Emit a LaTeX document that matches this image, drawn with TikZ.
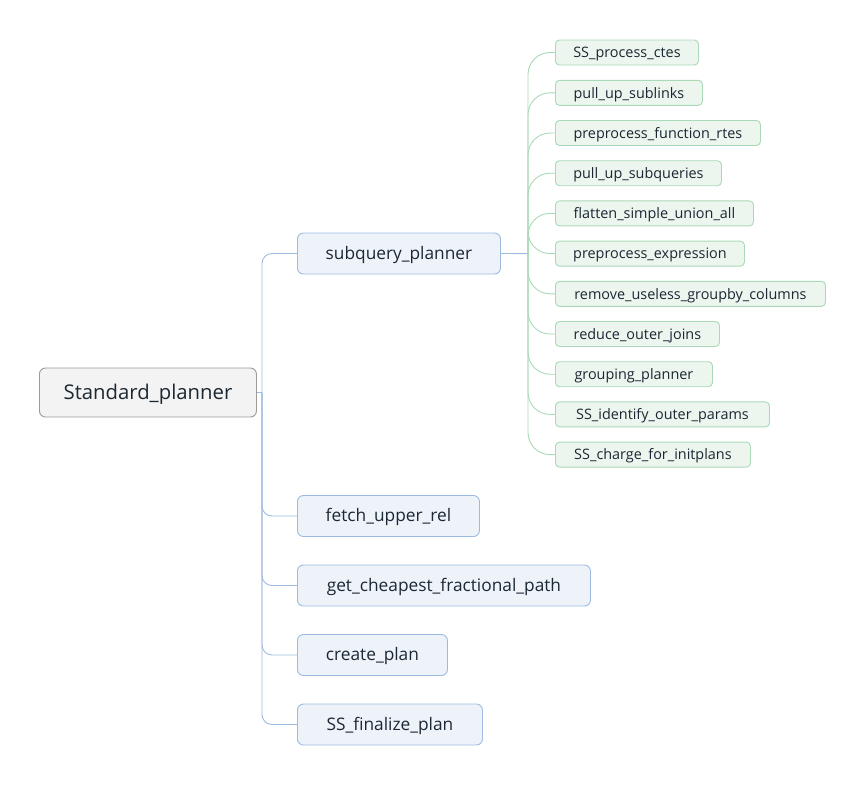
\documentclass[tikz,border=0pt]{standalone}
\usepackage{fontspec}
\setmainfont{Open Sans}
\definecolor{rootfill}{HTML}{F3F3F3}
\definecolor{rootdraw}{HTML}{9A9A9A}
\definecolor{bluefill}{HTML}{EEF3FA}
\definecolor{bluedraw}{HTML}{9DBBE0}
\definecolor{greenfill}{HTML}{ECF6EF}
\definecolor{greendraw}{HTML}{A9D9B6}
\definecolor{txt}{HTML}{1B2733}
\begin{document}
\begin{tikzpicture}[x=1pt,y=-1pt,
  base/.style={rounded corners=6pt, inner sep=0pt, text=txt, anchor=west, line width=0.9pt},
  rootbox/.style={base, fill=rootfill, draw=rootdraw, minimum height=49pt, text height=16pt, text depth=2pt, font=\fontsize{20.3}{24}\selectfont},
  midbox/.style={base, fill=bluefill, draw=bluedraw, minimum height=41pt, text height=13.6pt, text depth=2pt, font=\fontsize{17.3}{20}\selectfont},
  leafbox/.style={base, rounded corners=4pt, fill=greenfill, draw=greendraw, minimum height=25pt, text height=12.4pt, text depth=2pt, font=\fontsize{14.4}{17}\selectfont},
  blueline/.style={draw=bluedraw, line width=0.9pt, rounded corners=10pt},
  greenline/.style={draw=greendraw, line width=0.9pt, rounded corners=22pt}
]
\useasboundingbox (0,0) rectangle (865,785);
\node[rootbox, minimum width=217pt] (root) at (39,392.5) {Standard\_planner};
\node[midbox, minimum width=203pt] (sub) at (297,253.5) {subquery\_planner};
\node[midbox, minimum width=182pt] (fetch) at (297,516) {fetch\_upper\_rel};
\node[midbox, minimum width=293pt] (cheap) at (297,585.5) {get\_cheapest\_fractional\_path};
\node[midbox, minimum width=150pt] (create) at (297,655) {create\_plan};
\node[midbox, minimum width=185pt] (final) at (297,724.5) {SS\_finalize\_plan};

\node[leafbox, minimum width=143pt] (l1) at (555,52.5) {SS\_process\_ctes};
\node[leafbox, minimum width=147pt] (l2) at (555,92.8) {pull\_up\_sublinks};
\node[leafbox, minimum width=205pt] (l3) at (555,133) {preprocess\_function\_rtes};
\node[leafbox, minimum width=166pt] (l4) at (555,173.2) {pull\_up\_subqueries};
\node[leafbox, minimum width=198pt] (l5) at (555,213.4) {flatten\_simple\_union\_all};
\node[leafbox, minimum width=189pt] (l6) at (555,253.6) {preprocess\_expression};
\node[leafbox, minimum width=270pt] (l7) at (555,293.8) {remove\_useless\_groupby\_columns};
\node[leafbox, minimum width=164pt] (l8) at (555,334) {reduce\_outer\_joins};
\node[leafbox, minimum width=157pt] (l9) at (555,374.2) {grouping\_planner};
\node[leafbox, minimum width=214pt] (l10) at (555,414.4) {SS\_identify\_outer\_params};
\node[leafbox, minimum width=195pt] (l11) at (555,454.6) {SS\_charge\_for\_initplans};

\coordinate (rj) at (262,392.5);
\draw[blueline] (root.east) -- (rj);
\foreach \n in {sub,fetch,cheap,create,final}
  \draw[blueline] (rj) |- (\n.west);

\coordinate (gj) at (528,253.6);
\draw[draw=bluedraw, line width=0.9pt] (sub.east) -- (gj);
\foreach \n in {l1,l2,l3,l4,l5,l6,l7,l8,l9,l10,l11}
  \draw[greenline] (gj) |- (\n.west);
\end{tikzpicture}
\end{document}
